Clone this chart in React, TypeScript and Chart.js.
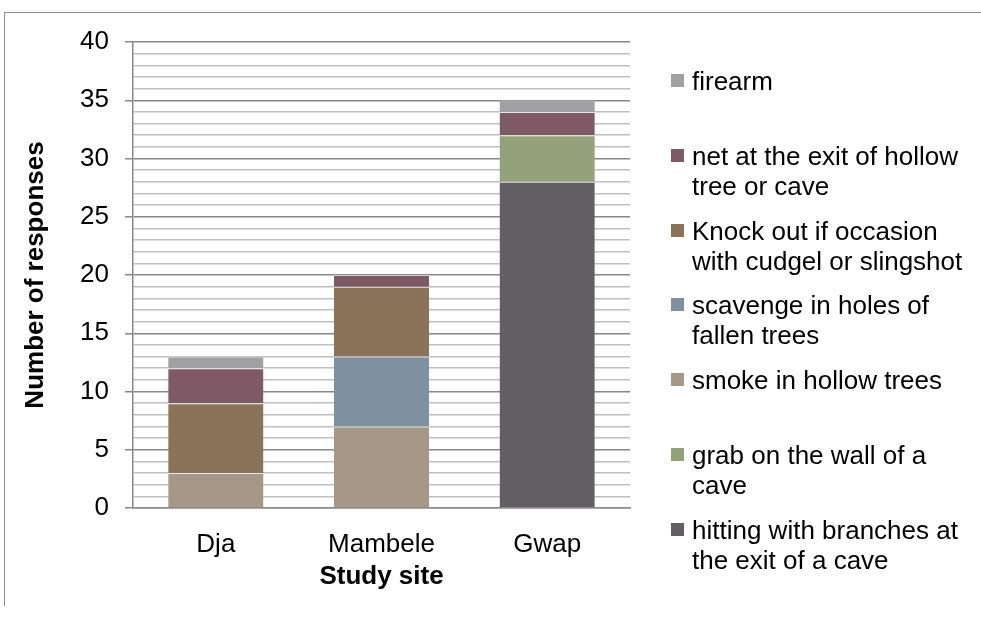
import React, { useEffect, useRef } from "react";
import { Chart, registerables } from "chart.js";

Chart.register(...registerables);

const categories = ["Dja", "Mambele", "Gwap"];
const seriesNames = [
  "hitting with branches at the exit of a cave",
  "grab on the wall of a cave",
  "smoke in hollow trees",
  "scavenge in holes of fallen trees",
  "Knock out if occasion with cudgel or slingshot",
  "net at the exit of hollow tree or cave",
  "firearm",
];
const hitting = [0, 0, 28];
const grab = [0, 0, 4];
const smoke = [3, 7, 0];
const scavenge = [0, 6, 0];
const knockOut = [6, 6, 0];
const net = [3, 1, 2];
const firearm = [1, 0, 1];
const seriesValues = [hitting, grab, smoke, scavenge, knockOut, net, firearm];
const seriesColors = ["#615f64", "#93a27a", "#a69886", "#7f919e", "#8a7358", "#7e5a66", "#a0a0a2"];
const yMin = 0;
const yMax = 40;
const yMajorStep = 5;
const xTitle = "Study site";
const yTitle = "Number of responses";

const FONT = "'Liberation Sans', Arial, sans-serif";
const FS = 26;

export default function App() {
  const ref = useRef<HTMLCanvasElement | null>(null);
  useEffect(() => {
    if (!ref.current) return;
    const chart = new Chart(ref.current, {
      type: "bar",
      data: {
        labels: categories,
        datasets: seriesNames.map((name, i) => ({
          label: name,
          data: seriesValues[i],
          backgroundColor: seriesColors[i],
          borderColor: "rgba(255,255,255,0.25)",
          borderWidth: { top: 1, left: 0, right: 0, bottom: 0 },
          borderSkipped: false,
          categoryPercentage: 1,
          barPercentage: 0.575,
        })),
      },
      options: {
        responsive: false,
        animation: false,
        devicePixelRatio: 1,
        layout: { padding: { top: 42, right: 351, left: 0, bottom: 0 } },
        plugins: { legend: { display: false }, tooltip: { enabled: false } },
        scales: {
          x: {
            stacked: true,
            grid: { display: false },
            border: { display: true, color: "#8c8c8c", width: 1.5 },
            ticks: { color: "#000", font: { family: FONT, size: FS }, padding: 13 },
            title: {
              display: true,
              text: xTitle,
              color: "#000",
              font: { family: FONT, size: FS, weight: "bold" },
              padding: { top: 4, bottom: 26 },
            },
            afterFit: (s: any) => {
              s.height = 110;
            },
          },
          y: {
            stacked: true,
            min: yMin,
            max: yMax,
            grid: {
              color: (c: any) => (c.tick && c.tick.value % yMajorStep === 0 ? "#888888" : "#c0c0c0"),
              tickColor: (c: any) => (c.tick && c.tick.value % yMajorStep === 0 ? "#888888" : "rgba(0,0,0,0)"),
              lineWidth: 1.5,
              tickLength: 8,
            },
            border: { display: true, color: "#888888", width: 1.5 },
            ticks: {
              stepSize: 1,
              autoSkip: false,
              maxTicksLimit: 100,
              padding: 16,
              color: "#000",
              font: { family: FONT, size: FS },
              callback: (v: any) => (Number(v) % yMajorStep === 0 ? String(v) : ""),
            },
            title: {
              display: true,
              text: yTitle,
              color: "#000",
              font: { family: FONT, size: FS, weight: "bold" },
              padding: { top: 20, bottom: 4 },
            },
            afterFit: (s: any) => {
              s.width = 133;
            },
          },
        },
      },
    });
    return () => chart.destroy();
  }, []);

  const legendOrder = [6, 5, 4, 3, 2, 1, 0];
  return (
    <div style={{ position: "fixed", left: 0, top: 0, width: 981, height: 618, background: "#fff", overflow: "hidden" }}>
      <div
        style={{
          position: "absolute",
          left: 4,
          top: 12,
          width: 1000,
          height: 593,
          borderTop: "1px solid #8c8c8c",
          borderLeft: "1px solid #8c8c8c",
        }}
      />
      <canvas ref={ref} width={981} height={618} style={{ position: "absolute", left: 0, top: 0 }} />
      {legendOrder.map((si, i) => (
        <div
          key={si}
          style={{
            position: "absolute",
            left: 671,
            top: 81 + i * 74.8 - 15,
            width: 310,
            fontFamily: FONT,
            fontSize: FS,
            lineHeight: "30px",
            color: "#000",
          }}
        >
          <span
            style={{
              position: "absolute",
              left: 0,
              top: 8,
              width: 13,
              height: 13,
              background: seriesColors[si],
            }}
          />
          <div style={{ marginLeft: 21, width: 282 }}>{seriesNames[si]}</div>
        </div>
      ))}
    </div>
  );
}
